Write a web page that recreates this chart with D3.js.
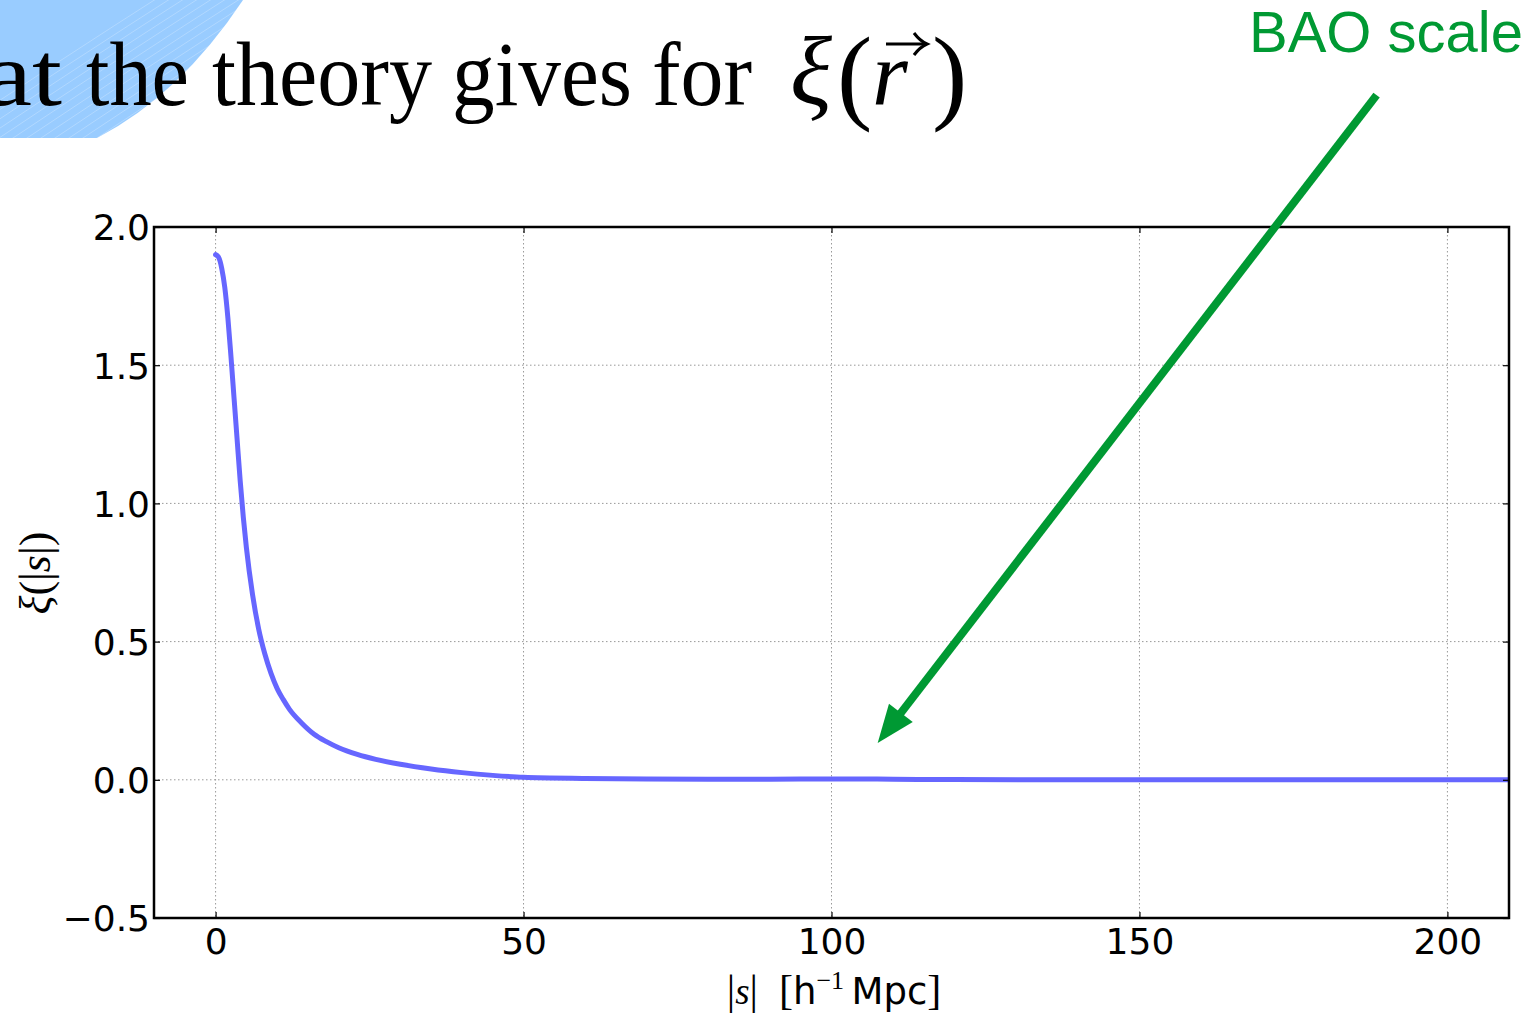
<!DOCTYPE html>
<html>
<head>
<meta charset="utf-8">
<script src="https://cdn.jsdelivr.net/npm/d3@7"></script>
<style>
  html, body { margin: 0; padding: 0; background: #fff; overflow: hidden; }
  svg { display: block; }
</style>
</head>
<body>
<svg id="chart" width="1529" height="1015"></svg>
<script>
// ---- data ----
const sValues  = [0, 0.5, 1, 1.5, 2, 2.5, 3, 3.5, 4, 4.5, 5, 6, 7, 8, 9, 10, 11, 12, 14, 16, 18, 20, 23, 26, 30, 35, 40, 45, 50, 60, 70, 80, 90, 100, 105, 110, 120, 140, 160, 180, 200, 210];
const xiValues = [1.90, 1.89, 1.85, 1.78, 1.67, 1.53, 1.38, 1.23, 1.08, 0.95, 0.84, 0.67, 0.545, 0.455, 0.385, 0.33, 0.29, 0.255, 0.205, 0.165, 0.138, 0.116, 0.092, 0.074, 0.056, 0.039, 0.026, 0.016, 0.009, 0.005, 0.003, 0.002, 0.002, 0.003, 0.003, 0.002, 0.001, 0.0, 0.0, 0.0, 0.0, 0.0];
const xTicks = [0, 50, 100, 150, 200];
const yTicks = [-0.5, 0.0, 0.5, 1.0, 1.5, 2.0];
const xDomain = [-10, 210];
const yDomain = [-0.5, 2.0];
const titleWords = ["at", "the", "theory", "gives", "for"];
const annotationText = "BAO scale";
// arrow in data coordinates: from (start) to (tip)
const arrowStart = [188.5, 2.477];
const arrowTip = [107.5, 0.133];

const svg = d3.select("#chart");
const m = { left: 154, right: 1509, top: 227, bottom: 918 };

const x = d3.scaleLinear().domain(xDomain).range([m.left, m.right]);
const y = d3.scaleLinear().domain(yDomain).range([m.bottom, m.top]);

// ---- slide decoration (blue corner) ----
const deco = svg.append("g");
deco.append("path")
  .attr("d", "M0,0 L243,0 Q180,95 97,138 L0,138 Z")
  .attr("fill", "#99ccff");
svg.append("clipPath").attr("id", "decoClip")
  .append("path").attr("d", "M0,0 L243,0 Q180,95 97,138 L0,138 Z");
const hatch = deco.append("g").attr("clip-path", "url(#decoClip)");
d3.range(0, 16).forEach(i => {
  hatch.append("path")
    .attr("d", `M${-60 + i * 14},140 Q${60 + i * 14},60 ${170 + i * 14},-10`)
    .attr("fill", "none")
    .attr("stroke", "#ffffff")
    .attr("stroke-opacity", 0.3)
    .attr("stroke-width", 0.8);
});

// ---- title (word layout matched to the slide) ----
const wordPos = [[-16, 78], [86, 103], [212, 220], [452, 180], [652, 100]];
const titleG = svg.append("g")
  .attr("font-family", "'Liberation Serif', 'Times New Roman', serif")
  .attr("font-size", 92)
  .attr("fill", "#000");
titleWords.forEach((w, i) => {
  titleG.append("text")
    .attr("x", wordPos[i][0]).attr("y", 105)
    .attr("textLength", wordPos[i][1])
    .attr("lengthAdjust", "spacingAndGlyphs")
    .text(w);
});

// math part xi(r-vector)
const mathG = svg.append("g");
mathG.append("text")
  .attr("x", 790).attr("y", 104)
  .attr("font-family", "'Liberation Serif', serif")
  .attr("font-style", "italic")
  .attr("font-size", 98)
  .text("ξ");
mathG.append("text")
  .attr("x", 837).attr("y", 110)
  .attr("font-family", "'Liberation Serif', serif")
  .attr("font-size", 106)
  .text("(");
mathG.append("text")
  .attr("x", 872).attr("y", 104)
  .attr("font-family", "'Liberation Serif', serif")
  .attr("font-style", "italic")
  .attr("font-size", 92)
  .text("r");
// vector arrow over r
mathG.append("path")
  .attr("d", "M886,44 L924,44")
  .attr("stroke", "#000").attr("stroke-width", 3.2).attr("fill", "none");
mathG.append("path")
  .attr("d", "M914,33 Q920,41 927,44 Q920,47 914,55")
  .attr("stroke", "#000").attr("stroke-width", 3).attr("fill", "none");
mathG.append("text")
  .attr("x", 932).attr("y", 110)
  .attr("font-family", "'Liberation Serif', serif")
  .attr("font-size", 106)
  .text(")");

// ---- grid ----
const grid = svg.append("g");
xTicks.forEach(t => {
  grid.append("line")
    .attr("x1", x(t)).attr("x2", x(t))
    .attr("y1", m.top).attr("y2", m.bottom)
    .attr("stroke", "#999").attr("stroke-width", 1)
    .attr("stroke-dasharray", "1.5,2.5");
});
yTicks.forEach(t => {
  grid.append("line")
    .attr("x1", m.left).attr("x2", m.right)
    .attr("y1", y(t)).attr("y2", y(t))
    .attr("stroke", "#999").attr("stroke-width", 1)
    .attr("stroke-dasharray", "1.5,2.5");
});

// ---- curve ----
svg.append("clipPath").attr("id", "plotClip")
  .append("rect").attr("x", m.left).attr("y", m.top)
  .attr("width", m.right - m.left).attr("height", m.bottom - m.top);

const line = d3.line()
  .x((d, i) => x(sValues[i]))
  .y((d, i) => y(xiValues[i]))
  .curve(d3.curveMonotoneX);

svg.append("path")
  .datum(xiValues)
  .attr("d", line)
  .attr("fill", "none")
  .attr("stroke", "#6666ff")
  .attr("stroke-width", 5)
  .attr("stroke-linecap", "round")
  .attr("stroke-linejoin", "round")
  .attr("clip-path", "url(#plotClip)");

// ---- axes (matplotlib classic style: inward ticks on all sides) ----
const tickFont = "'DejaVu Sans', sans-serif";
const xAxisB = d3.axisBottom(x).tickValues(xTicks).tickSizeInner(-6).tickSizeOuter(0).tickPadding(10)
  .tickFormat(d3.format("d"));
const xAxisT = d3.axisTop(x).tickValues(xTicks).tickSizeInner(-6).tickSizeOuter(0).tickFormat("");
const yAxisL = d3.axisLeft(y).tickValues(yTicks).tickSizeInner(-6).tickSizeOuter(0).tickPadding(4)
  .tickFormat(d => d3.format(".1f")(d).replace("-", "\u2212"));
const yAxisR = d3.axisRight(y).tickValues(yTicks).tickSizeInner(-6).tickSizeOuter(0).tickFormat("");

function styleAxis(g) {
  g.select(".domain").remove();
  g.selectAll(".tick line").attr("stroke", "#000").attr("stroke-width", 1.2);
  g.selectAll(".tick text")
    .attr("font-family", tickFont)
    .attr("font-size", 36)
    .attr("fill", "#000");
}
svg.append("g").attr("transform", `translate(0,${m.bottom})`).call(xAxisB).call(styleAxis);
svg.append("g").attr("transform", `translate(0,${m.top})`).call(xAxisT).call(styleAxis);
svg.append("g").attr("transform", `translate(${m.left},0)`).call(yAxisL).call(styleAxis)
  .selectAll(".tick text").attr("dy", "0.36em");
svg.append("g").attr("transform", `translate(${m.right},0)`).call(yAxisR).call(styleAxis);

// frame
svg.append("rect")
  .attr("x", m.left).attr("y", m.top)
  .attr("width", m.right - m.left).attr("height", m.bottom - m.top)
  .attr("fill", "none").attr("stroke", "#000").attr("stroke-width", 2.5);

// ---- axis labels ----
const serif = "'Liberation Serif', serif";
const xl = svg.append("text")
  .attr("x", 834).attr("y", 1004)
  .attr("text-anchor", "middle")
  .attr("font-size", 37)
  .attr("fill", "#000");
xl.append("tspan").attr("font-family", serif).attr("font-size", 42).text("|");
xl.append("tspan").attr("font-family", serif).attr("font-style", "italic").text("s");
xl.append("tspan").attr("font-family", serif).attr("font-size", 42).text("|");
xl.append("tspan").attr("font-family", serif).attr("font-size", 42).text("\u2002[");
xl.append("tspan").attr("font-family", tickFont).text("h");
xl.append("tspan").attr("font-family", serif).attr("font-size", 26).attr("dy", -15).text("\u22121");
xl.append("tspan").attr("font-family", tickFont).attr("dy", 15).text("\u2009Mpc");
xl.append("tspan").attr("font-family", serif).attr("font-size", 42).text("]");

const yl = svg.append("text")
  .attr("transform", "translate(50,573) rotate(-90)")
  .attr("text-anchor", "middle")
  .attr("font-size", 44)
  .attr("font-family", serif)
  .attr("fill", "#000");
yl.append("tspan").attr("font-style", "italic").text("ξ");
yl.append("tspan").text("(|");
yl.append("tspan").attr("font-style", "italic").text("s");
yl.append("tspan").text("|)");

// ---- annotation ----
const green = "#009933";
svg.append("text")
  .attr("x", 1523).attr("y", 52)
  .attr("text-anchor", "end")
  .attr("font-family", "'Liberation Sans', Arial, sans-serif")
  .attr("font-size", 58)
  .attr("fill", green)
  .text(annotationText);

const sx = x(arrowStart[0]), sy = y(arrowStart[1]);
const tx = x(arrowTip[0]), ty = y(arrowTip[1]);
const dx = tx - sx, dy = ty - sy, L = Math.hypot(dx, dy);
const ux = dx / L, uy = dy / L, px = -uy, py = ux;
const headLen = 38, headW = 15;
const bx = tx - ux * headLen, by = ty - uy * headLen;
svg.append("line")
  .attr("x1", sx).attr("y1", sy)
  .attr("x2", bx + ux * 4).attr("y2", by + uy * 4)
  .attr("stroke", green).attr("stroke-width", 8);
svg.append("path")
  .attr("d", `M${tx},${ty} L${bx + px * headW},${by + py * headW} L${bx - px * headW},${by - py * headW} Z`)
  .attr("fill", green);
</script>
</body>
</html>
